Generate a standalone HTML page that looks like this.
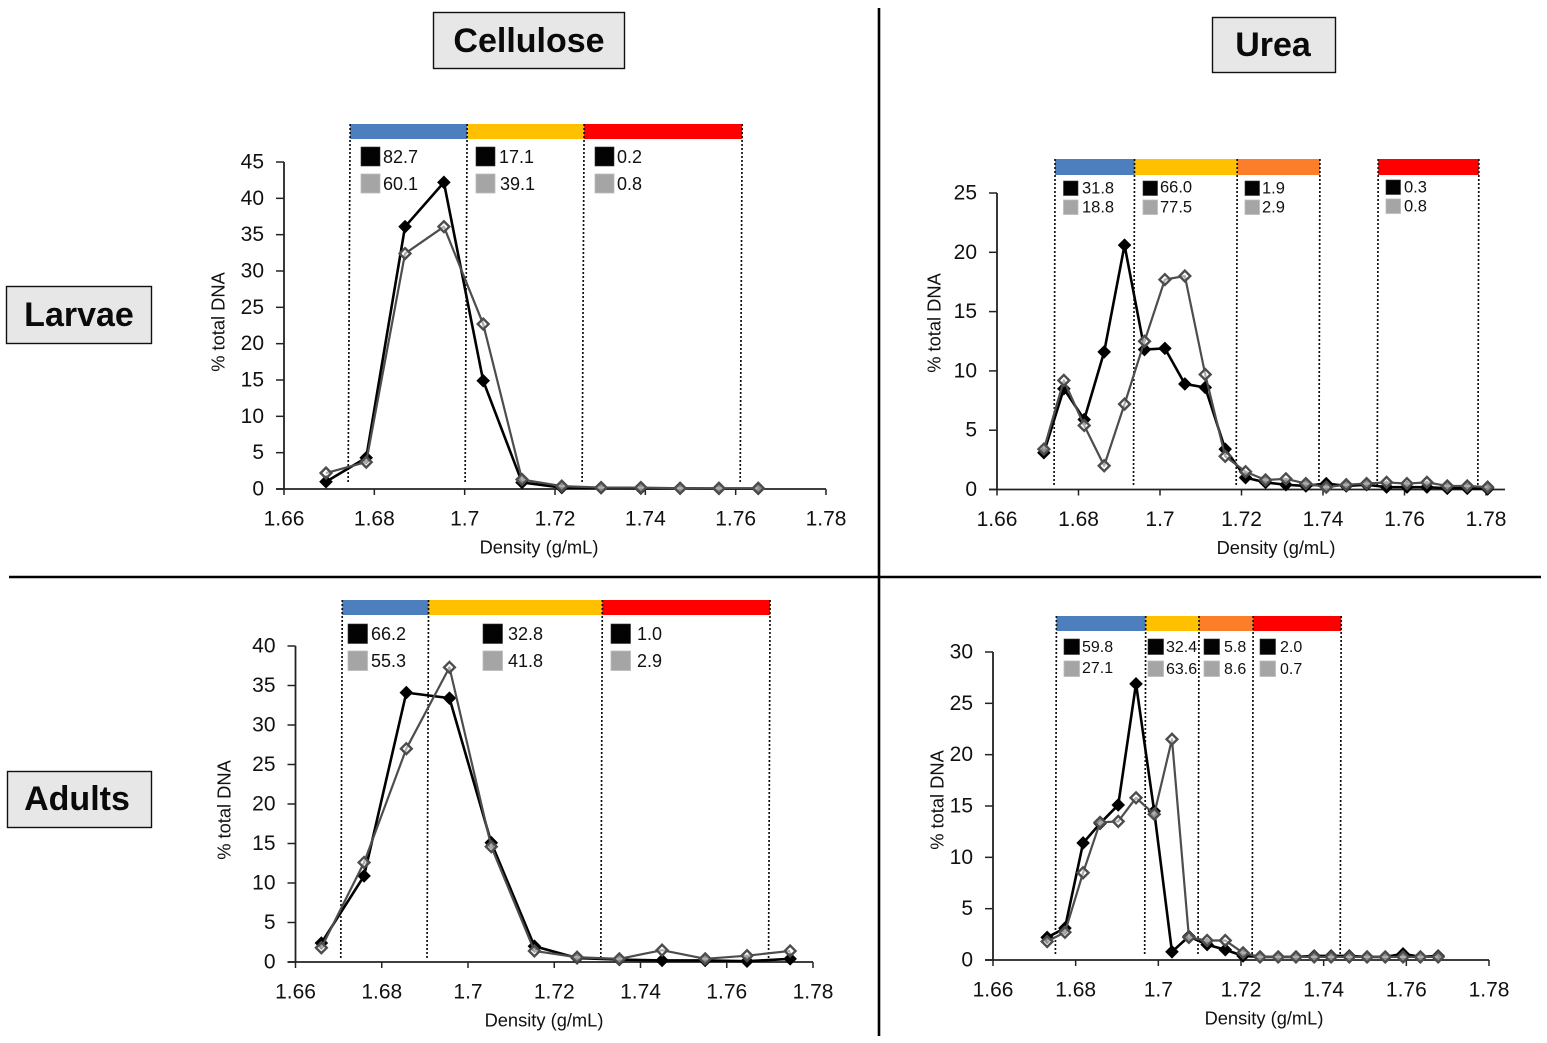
<!DOCTYPE html>
<html lang="en">
<head>
<meta charset="utf-8">
<title>DNA density gradient profiles</title>
<style>
html,body{margin:0;padding:0;background:#fff;}
#figure{display:block;width:1547px;height:1043px;font-family:"Liberation Sans",sans-serif;}
text{fill:#111;}
.box{fill:#e7e7e7;stroke:#111;stroke-width:1.4;}
.head{font-weight:bold;font-size:34px;text-anchor:middle;dominant-baseline:central;fill:#0a0a0a;}
.sb{fill:#030303;stroke:#333;stroke-width:.6;}
.sg{fill:#a5a5a5;stroke:#bcbcbc;stroke-width:.8;}
.l18{font-size:18px;dominant-baseline:central;}
.l16{font-size:16.5px;dominant-baseline:central;}
.l15{font-size:16px;dominant-baseline:central;}
</style>
</head>
<body>
<svg id="figure" xmlns="http://www.w3.org/2000/svg" width="1547" height="1043" viewBox="0 0 1547 1043">
  <rect x="0" y="0" width="1547" height="1043" fill="#fff"/>
  <line x1="879" y1="8" x2="879" y2="1036" stroke="#000" stroke-width="2.6"/>
  <line x1="9" y1="577" x2="1541" y2="577" stroke="#000" stroke-width="2.6"/>

  <g>
    <rect class="box" x="433.5" y="12.5" width="191" height="56"/>
    <text class="head" x="529" y="41">Cellulose</text>
  </g>
  <g>
    <rect class="box" x="1212.5" y="17.5" width="123" height="55"/>
    <text class="head" x="1273" y="45">Urea</text>
  </g>
  <g>
    <rect class="box" x="6.5" y="286.5" width="145" height="57"/>
    <text class="head" x="79" y="315">Larvae</text>
  </g>
  <g>
    <rect class="box" x="7.5" y="771.5" width="144" height="56"/>
    <text class="head" x="77" y="799">Adults</text>
  </g>

  <g id="panels"></g>

  <g>
    <rect class="sb" x="361" y="147" width="19" height="19"/><text class="l18" x="383" y="157">82.7</text>
    <rect class="sg" x="361" y="174" width="19" height="19"/><text class="l18" x="383" y="184">60.1</text>
    <rect class="sb" x="476" y="147" width="19" height="19"/><text class="l18" x="499" y="157">17.1</text>
    <rect class="sg" x="476" y="174" width="19" height="19"/><text class="l18" x="500" y="184">39.1</text>
    <rect class="sb" x="595" y="147" width="19" height="19"/><text class="l18" x="617" y="157">0.2</text>
    <rect class="sg" x="595" y="174" width="19" height="19"/><text class="l18" x="617" y="184">0.8</text>
  </g>
  <g>
    <rect class="sb" x="1063.5" y="181" width="14.5" height="14.5"/><text class="l16" x="1082" y="188.5">31.8</text>
    <rect class="sg" x="1063.5" y="200" width="14.5" height="14.5"/><text class="l16" x="1082" y="207.5">18.8</text>
    <rect class="sb" x="1143" y="181" width="14.5" height="14.5"/><text class="l16" x="1160" y="187.5">66.0</text>
    <rect class="sg" x="1143" y="200" width="14.5" height="14.5"/><text class="l16" x="1160" y="207.5">77.5</text>
    <rect class="sb" x="1245" y="181" width="14.5" height="14.5"/><text class="l16" x="1262" y="188.5">1.9</text>
    <rect class="sg" x="1245" y="200" width="14.5" height="14.5"/><text class="l16" x="1262" y="207.5">2.9</text>
    <rect class="sb" x="1386" y="180" width="14.5" height="14.5"/><text class="l16" x="1404" y="187.5">0.3</text>
    <rect class="sg" x="1386" y="199" width="14.5" height="14.5"/><text class="l16" x="1404" y="206.5">0.8</text>
  </g>
  <g>
    <rect class="sb" x="348" y="624" width="19.5" height="19.5"/><text class="l18" x="371" y="634">66.2</text>
    <rect class="sg" x="348" y="651" width="19.5" height="19.5"/><text class="l18" x="371" y="661">55.3</text>
    <rect class="sb" x="483" y="624" width="19.5" height="19.5"/><text class="l18" x="508" y="634">32.8</text>
    <rect class="sg" x="483" y="651" width="19.5" height="19.5"/><text class="l18" x="508" y="661">41.8</text>
    <rect class="sb" x="611" y="624" width="19.5" height="19.5"/><text class="l18" x="637" y="634">1.0</text>
    <rect class="sg" x="611" y="651" width="19.5" height="19.5"/><text class="l18" x="637" y="661">2.9</text>
  </g>
  <g>
    <rect class="sb" x="1064" y="639" width="15.5" height="15.5"/><text class="l15" x="1082" y="647.5">59.8</text>
    <rect class="sg" x="1064" y="661" width="15.5" height="15.5"/><text class="l15" x="1082" y="668.5">27.1</text>
    <rect class="sb" x="1148" y="639" width="15.5" height="15.5"/><text class="l15" x="1166" y="647.5">32.4</text>
    <rect class="sg" x="1148" y="661" width="15.5" height="15.5"/><text class="l15" x="1166" y="669.5">63.6</text>
    <rect class="sb" x="1204" y="639" width="15.5" height="15.5"/><text class="l15" x="1224" y="647.5">5.8</text>
    <rect class="sg" x="1204" y="661" width="15.5" height="15.5"/><text class="l15" x="1224" y="669.5">8.6</text>
    <rect class="sb" x="1260" y="639" width="15.5" height="15.5"/><text class="l15" x="1280" y="647.5">2.0</text>
    <rect class="sg" x="1260" y="661" width="15.5" height="15.5"/><text class="l15" x="1280" y="669.5">0.7</text>
  </g>
</svg>
<script>
// ---- Shared tick labels ----
var xTickLabels = ['1.66', '1.68', '1.7', '1.72', '1.74', '1.76', '1.78'];
var xTickValues = [1.66, 1.68, 1.70, 1.72, 1.74, 1.76, 1.78];

// ---- Larvae / Cellulose ----
var lcDensity = [1.6693, 1.6782, 1.6868, 1.6954, 1.7041, 1.7127, 1.7215, 1.7302, 1.739, 1.7477, 1.7563, 1.765];
var lcBlack = [1.0, 4.3, 36.1, 42.2, 14.9, 0.9, 0.2, 0.15, 0.1, 0.1, 0.05, 0.05];
var lcGray = [2.2, 3.7, 32.4, 36.1, 22.7, 1.3, 0.4, 0.2, 0.2, 0.1, 0.1, 0.1];
var lcYTicks = [0, 5, 10, 15, 20, 25, 30, 35, 40, 45];
var lcEdges = [1.6742, 1.7001, 1.726, 1.761];
var lcBandColors = ['#4d7ebd', '#ffc000', '#ff0000'];

// ---- Larvae / Urea ----
var luDensity = [1.6715, 1.6764, 1.6814, 1.6863, 1.6913, 1.6962, 1.7012, 1.7061, 1.7111, 1.716, 1.721, 1.7259, 1.7309, 1.7358, 1.7408, 1.7457, 1.7507, 1.7556, 1.7606, 1.7655, 1.7705, 1.7754, 1.7804];
var luBlack = [3.1, 8.5, 5.9, 11.6, 20.6, 11.8, 11.9, 8.9, 8.6, 3.4, 1.0, 0.6, 0.4, 0.3, 0.5, 0.3, 0.4, 0.2, 0.2, 0.2, 0.1, 0.1, 0.05];
var luGray = [3.4, 9.2, 5.4, 2.0, 7.2, 12.5, 17.7, 18.0, 9.7, 2.8, 1.5, 0.8, 0.9, 0.5, 0.2, 0.4, 0.5, 0.6, 0.5, 0.6, 0.3, 0.3, 0.2];
var luYTicks = [0, 5, 10, 15, 20, 25];
var luEdges = [1.674, 1.6935, 1.7187, 1.739, 1.7533, 1.778];
var luBandColors = ['#4d7ebd', '#ffc000', '#fd7e2a', null, '#ff0000'];

// ---- Adults / Cellulose ----
var acDensity = [1.666, 1.6759, 1.6857, 1.6957, 1.7054, 1.7154, 1.7253, 1.7351, 1.745, 1.755, 1.7647, 1.7747];
var acBlack = [2.4, 10.9, 34.1, 33.4, 15.1, 2.0, 0.5, 0.3, 0.2, 0.2, 0.1, 0.4];
var acGray = [1.8, 12.6, 27.0, 37.3, 14.6, 1.4, 0.6, 0.4, 1.5, 0.4, 0.8, 1.4];
var acYTicks = [0, 5, 10, 15, 20, 25, 30, 35, 40];
var acEdges = [1.6705, 1.6905, 1.7308, 1.7697];
var acBandColors = ['#4d7ebd', '#ffc000', '#ff0000'];

// ---- Adults / Urea ----
var auDensity = [1.6731, 1.6774, 1.6818, 1.6859, 1.6903, 1.6946, 1.699, 1.7033, 1.7074, 1.7118, 1.7162, 1.7205, 1.7246, 1.729, 1.7333, 1.7377, 1.7418, 1.7462, 1.7505, 1.7549, 1.7592, 1.7634, 1.7677];
var auBlack = [2.2, 3.1, 11.4, 13.3, 15.1, 26.9, 14.5, 0.8, 2.3, 1.5, 1.0, 0.4, 0.3, 0.3, 0.3, 0.4, 0.4, 0.4, 0.3, 0.3, 0.6, 0.3, 0.4];
var auGray = [1.8, 2.7, 8.5, 13.4, 13.5, 15.8, 14.2, 21.5, 2.2, 1.9, 1.9, 0.7, 0.3, 0.3, 0.3, 0.3, 0.3, 0.3, 0.3, 0.3, 0.3, 0.3, 0.3];
var auYTicks = [0, 5, 10, 15, 20, 25, 30];
var auEdges = [1.6751, 1.6967, 1.7096, 1.7227, 1.744];
var auBandColors = ['#4d7ebd', '#ffc000', '#fd7e2a', '#ff0000'];

var NS = 'http://www.w3.org/2000/svg';
function make(parent, tag, attrs, text) {
  var el = document.createElementNS(NS, tag);
  for (var k in attrs) el.setAttribute(k, attrs[k]);
  if (text !== undefined) el.textContent = text;
  parent.appendChild(el);
  return el;
}
function diamondPoints(cx, cy, r) {
  return (cx) + ',' + (cy - r) + ' ' + (cx + r) + ',' + cy + ' ' + (cx) + ',' + (cy + r) + ' ' + (cx - r) + ',' + cy;
}
function drawPanel(p) {
  var root = document.getElementById('panels');
  var g = make(root, 'g', {});
  
  
  var xMin = xTickValues[0], xMax = xTickValues[xTickValues.length - 1];
  var yMax = p.yTicks[p.yTicks.length - 1];
  function sx(v) { return p.xLeft + (v - xMin) / (xMax - xMin) * (p.xRight - p.xLeft); }
  function sy(v) { return p.y0 - v / yMax * (p.y0 - p.yTop); }

  // density-band bars and dotted fraction boundaries
  p.bandColors.forEach(function (c, i) {
    if (!c) return;
    var r = make(g, 'rect', { x: sx(p.edges[i]) + p.lean, y: p.bandY, width: sx(p.edges[i + 1]) - sx(p.edges[i]), height: p.bandH, fill: c });
    
    
  });
  p.edges.forEach(function (e) {
    var l = make(g, 'line', { x1: sx(e) + p.lean, y1: p.bandY, x2: sx(e), y2: p.dotBottom, stroke: '#111', 'stroke-width': 1.7, 'stroke-dasharray': '2 2' });
    
    
  });

  // axes
  var ya = make(g, 'line', { x1: p.xLeft, y1: p.yTop, x2: p.xLeft, y2: p.y0, stroke: '#222', 'stroke-width': 1.8 });
  
  
  var xa = make(g, 'line', { x1: p.xLeft - 8, y1: p.y0, x2: p.xAxisEnd, y2: p.y0, stroke: '#222', 'stroke-width': 1.8 });
  
  

  p.yTicks.forEach(function (t) {
    var tk = make(g, 'line', { x1: p.xLeft - 8, y1: sy(t), x2: p.xLeft, y2: sy(t), stroke: '#222', 'stroke-width': 1.5 });
    
    
    var lb = make(g, 'text', { x: p.xLeft - 20 + 0, y: sy(t), 'text-anchor': 'end', 'dominant-baseline': 'central', 'font-size': 21 }, String(t));
    
    
  });
  xTickValues.forEach(function (t, i) {
    var tk = make(g, 'line', { x1: sx(t), y1: p.y0, x2: sx(t), y2: p.y0 + 6, stroke: '#222', 'stroke-width': 1.5 });
    
    
    var lb = make(g, 'text', { x: sx(t), y: p.y0 + 30, 'text-anchor': 'middle', 'dominant-baseline': 'central', 'font-size': 21 }, xTickLabels[i]);
    
    
  });
  var xt = make(g, 'text', { x: p.xTitleX, y: p.y0 + 58, 'text-anchor': 'middle', 'dominant-baseline': 'central', 'font-size': 18.3 }, 'Density (g/mL)');
  
  
  var yt = make(g, 'text', { x: 0, y: 0, 'text-anchor': 'middle', 'dominant-baseline': 'central', 'font-size': 18.3, transform: 'translate(' + p.yTitleX + ',' + p.yTitleY + ') rotate(-90)' }, '% total DNA');
  
  

  // series
  var blackPts = p.density.map(function (d, i) { return sx(d) + ',' + sy(p.black[i]); }).join(' ');
  var grayPts = p.density.map(function (d, i) { return sx(d) + ',' + sy(p.gray[i]); }).join(' ');
  var bl = make(g, 'polyline', { points: blackPts, fill: 'none', stroke: '#000', 'stroke-width': 2.6, 'stroke-linejoin': 'round' });
  
  
  p.density.forEach(function (d, i) {
    var m = make(g, 'polygon', { points: diamondPoints(sx(d), sy(p.black[i]), 6.8), fill: '#000' });
    
    
  });
  var gl = make(g, 'polyline', { points: grayPts, fill: 'none', stroke: '#4d4d4d', 'stroke-width': 2.2, 'stroke-linejoin': 'round' });
  
  
  p.density.forEach(function (d, i) {
    var m = make(g, 'polygon', { points: diamondPoints(sx(d), sy(p.gray[i]), 5.4), fill: '#fff', 'fill-opacity': 0.55, stroke: '#4d4d4d', 'stroke-width': 2.4 });
    
    
  });
}

drawPanel({ name: 'larvae-cellulose', density: lcDensity, black: lcBlack, gray: lcGray, yTicks: lcYTicks, edges: lcEdges, bandColors: lcBandColors,
  xLeft: 284, xRight: 826, xAxisEnd: 826, y0: 489, yTop: 162, bandY: 124, bandH: 15, lean: 2, dotBottom: 484, xTitleX: 539, yTitleX: 218, yTitleY: 322 });
drawPanel({ name: 'larvae-urea', density: luDensity, black: luBlack, gray: luGray, yTicks: luYTicks, edges: luEdges, bandColors: luBandColors,
  xLeft: 997, xRight: 1486, xAxisEnd: 1505, y0: 489.5, yTop: 193, bandY: 159, bandH: 16, lean: 1, dotBottom: 485, xTitleX: 1276, yTitleX: 934, yTitleY: 323 });
drawPanel({ name: 'adults-cellulose', density: acDensity, black: acBlack, gray: acGray, yTicks: acYTicks, edges: acEdges, bandColors: acBandColors,
  xLeft: 295.5, xRight: 813, xAxisEnd: 813, y0: 962, yTop: 646, bandY: 600, bandH: 15, lean: 1.5, dotBottom: 958, xTitleX: 544, yTitleX: 224, yTitleY: 810 });
drawPanel({ name: 'adults-urea', density: auDensity, black: auBlack, gray: auGray, yTicks: auYTicks, edges: auEdges, bandColors: auBandColors,
  xLeft: 993, xRight: 1489, xAxisEnd: 1489, y0: 960, yTop: 652, bandY: 616, bandH: 15, lean: 1, dotBottom: 955, xTitleX: 1264, yTitleX: 937, yTitleY: 800 });
</script>
</body>
</html>
